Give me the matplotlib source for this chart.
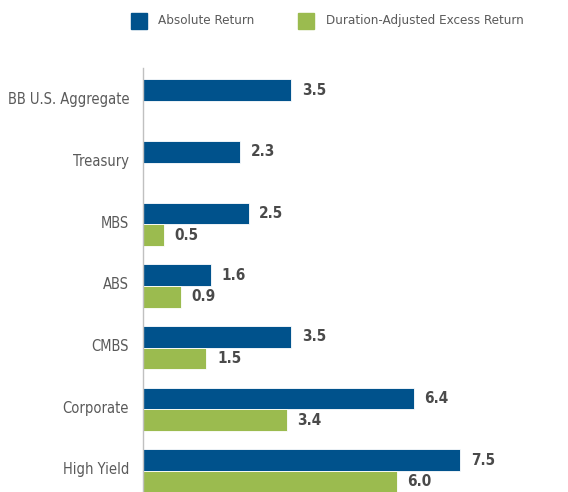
import numpy as np
import matplotlib.pyplot as plt
from matplotlib.patches import Rectangle
from matplotlib.transforms import offset_copy

categories = ["BB U.S. Aggregate", "Treasury", "MBS", "ABS", "CMBS", "Corporate", "High Yield"]
absolute_return = [3.5, 2.3, 2.5, 1.6, 3.5, 6.4, 7.5]
excess_return = [None, None, 0.5, 0.9, 1.5, 3.4, 6.0]
legend_labels = ["Absolute Return", "Duration-Adjusted Excess Return"]

navy = "#00528c"
green = "#9bbb4f"
label_color = "#5a5a5a"
value_color = "#4a4a4a"

plt.rcParams['font.family'] = ['DejaVu Sans']
plt.rcParams['font.stretch'] = 'condensed'

fig = plt.figure(figsize=(5.68, 4.92), dpi=100)
ax = fig.add_axes([0.2518, 0.0, 0.7447, 0.8618])

h = 0.35
y = np.arange(len(categories))

ax.barh(y - h / 2, absolute_return, height=h, color=navy, edgecolor="white", linewidth=0.6)
for yi, v in zip(y, absolute_return):
    ax.text(v + 0.25, yi - h / 2, f"{v:.1f}", va="center", ha="left",
            fontsize=11, fontweight="bold", color=value_color)

ex_y = [yi for yi, v in zip(y, excess_return) if v is not None]
ex_v = [v for v in excess_return if v is not None]
ax.barh(np.array(ex_y) + h / 2, ex_v, height=h, color=green, edgecolor="white", linewidth=0.6)
for yi, v in zip(ex_y, ex_v):
    ax.text(v + 0.25, yi + h / 2, f"{v:.1f}", va="center", ha="left",
            fontsize=11, fontweight="bold", color=value_color)

ax.set_xlim(0, 10)
ax.set_ylim(6.34, -0.535)
ax.set_yticks(y)
ax.set_yticklabels(categories, fontsize=10.5, color=label_color)
ax.tick_params(axis="y", length=0, pad=10)
# nudge category labels up a little
for lbl in ax.get_yticklabels():
    lbl.set_transform(offset_copy(lbl.get_transform(), fig=fig, y=2, units="points"))
ax.set_xticks([])
for side in ["top", "right", "bottom"]:
    ax.spines[side].set_visible(False)
ax.spines["left"].set_color("#c0c0c0")
ax.spines["left"].set_linewidth(1)

# legend at top
fig.patches.append(Rectangle((131 / 568, 1 - 29 / 492), 16 / 568, 16 / 492,
                             transform=fig.transFigure, color=navy))
fig.text(158 / 568, 1 - 20.5 / 492, legend_labels[0], fontsize=9.6, color=label_color, va="center")
fig.patches.append(Rectangle((298 / 568, 1 - 29 / 492), 16 / 568, 16 / 492,
                             transform=fig.transFigure, color=green))
fig.text(326 / 568, 1 - 20.5 / 492, legend_labels[1], fontsize=9.6, color=label_color, va="center")

plt.savefig("out.png", dpi=100)
